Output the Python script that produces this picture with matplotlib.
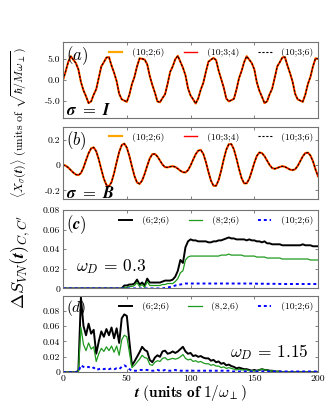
import numpy as np
import matplotlib
matplotlib.use('Agg')
import matplotlib.pyplot as plt

plt.rcParams['font.family'] = 'cmr10'
plt.rcParams['mathtext.fontset'] = 'cm'
plt.rcParams['axes.unicode_minus'] = False
plt.rcParams['axes.formatter.use_mathtext'] = True

# tiempo (unidades de 1/omega_perp), paso 2
t = np.arange(0, 201, 2)

# panel (a): <X_sigma(t)>, sigma = I
xa = [0.0, 2.0, 4.2, 5.6, 4.8, 4.0, 2.5, -0.5, -2.5, -3.9,
      -5.5, -5.1, -3.5, -2.2, 0.5, 3.2, 4.2, 5.3, 5.4, 3.4,
      1.7, -0.3, -3.3, -4.6, -4.9, -5.2, -3.5, -1.0, 0.7, 3.2,
      5.1, 5.0, 4.8, 3.7, 0.9, -1.2, -3.0, -5.1, -5.3, -4.3,
      -3.4, -0.9, 1.9, 3.2, 4.9, 5.7, 4.3, 2.9, 1.1, -2.0,
      -3.7, -4.6, -5.6, -4.4, -2.3, -0.7, 1.9, 4.3, 4.8, 5.2,
      4.7, 2.2, 0.2, -1.8, -4.4, -5.1, -4.8, -4.5, -2.3, 0.4,
      2.1, 4.2, 5.6, 4.8, 4.0, 2.5, -0.6, -2.6, -4.0, -5.5,
      -5.1, -3.4, -2.1, 0.5, 3.2, 4.2, 5.3, 5.4, 3.4, 1.6,
      -0.4, -3.3, -4.6, -4.9, -5.2, -3.5, -1.0, 0.7, 3.2, 5.1,
      5.0]

# panel (b): <X_sigma(t)>, sigma = B
xb = [0.0, -0.005, -0.02, -0.04, -0.06, -0.075, -0.08, -0.064, -0.021, 0.038,
      0.093, 0.131, 0.139, 0.108, 0.044, -0.035, -0.109, -0.158, -0.169, -0.135,
      -0.065, 0.022, 0.103, 0.157, 0.169, 0.137, 0.071, -0.011, -0.087, -0.138,
      -0.149, -0.123, -0.070, -0.006, 0.052, 0.085, 0.087, 0.067, 0.035, 0.003,
      -0.017, -0.019, -0.013, -0.010, -0.015, -0.029, -0.045, -0.057, -0.059, -0.041,
      -0.004, 0.042, 0.085, 0.113, 0.119, 0.088, 0.024, -0.054, -0.124, -0.164,
      -0.164, -0.120, -0.044, 0.044, 0.120, 0.164, 0.165, 0.123, 0.051, -0.031,
      -0.103, -0.145, -0.145, -0.110, -0.050, 0.017, 0.072, 0.099, 0.094, 0.070,
      0.035, 0.000, -0.024, -0.030, -0.024, -0.015, -0.010, -0.014, -0.025, -0.036,
      -0.040, -0.034, -0.008, 0.030, 0.068, 0.094, 0.098, 0.075, 0.030, -0.035,
      -0.090]

# panel (c): Delta S_VN, omega_D = 0.3
sc_626 = [0] * 24 + [
    0.003, 0.003, 0.004, 0.004, 0.005, 0.009, 0.004, 0.006, 0.003, 0.010,
    0.006, 0.006, 0.006, 0.006, 0.006, 0.007, 0.008, 0.008, 0.008, 0.009,
    0.012, 0.018, 0.029, 0.026, 0.042, 0.048, 0.050, 0.049, 0.049, 0.048,
    0.048, 0.048, 0.048, 0.047, 0.047, 0.048, 0.048, 0.049, 0.049, 0.050,
    0.051, 0.052, 0.051, 0.051, 0.050, 0.050, 0.050, 0.050, 0.049, 0.050,
    0.049, 0.049, 0.048, 0.048, 0.047, 0.048, 0.046, 0.046, 0.045, 0.045,
    0.045, 0.045, 0.044, 0.044, 0.044, 0.044, 0.044, 0.044, 0.044, 0.044,
    0.045, 0.044, 0.044, 0.044, 0.043, 0.043, 0.043]
sc_826 = [0] * 24 + [
    0.001, 0.001, 0.002, 0.002, 0.003, 0.006, 0.002, 0.004, 0.001, 0.007,
    0.003, 0.003, 0.003, 0.003, 0.003, 0.004, 0.004, 0.005, 0.005, 0.005,
    0.007, 0.010, 0.016, 0.018, 0.029, 0.032, 0.033, 0.033, 0.033, 0.033,
    0.033, 0.033, 0.033, 0.033, 0.033, 0.033, 0.033, 0.033, 0.034, 0.034,
    0.034, 0.035, 0.034, 0.034, 0.034, 0.034, 0.034, 0.033, 0.033, 0.033,
    0.033, 0.033, 0.032, 0.032, 0.032, 0.032, 0.031, 0.031, 0.031, 0.031,
    0.031, 0.031, 0.030, 0.030, 0.030, 0.030, 0.030, 0.030, 0.030, 0.030,
    0.030, 0.030, 0.030, 0.029, 0.029, 0.029, 0.029]
sc_1026 = [0] * 40 + [
    0.0005, 0.001, 0.0015, 0.002, 0.003, 0.0035, 0.004, 0.0045, 0.005, 0.005,
    0.005, 0.005, 0.005, 0.005, 0.005, 0.005, 0.005, 0.005, 0.005, 0.005,
    0.005, 0.005, 0.005, 0.005, 0.005, 0.005, 0.005, 0.005, 0.005, 0.005,
    0.005, 0.005, 0.005, 0.005, 0.005, 0.005, 0.0048, 0.0048, 0.0048, 0.0048,
    0.0047, 0.0047, 0.0047, 0.0047, 0.0046, 0.0046, 0.0046, 0.0045, 0.0045, 0.0045,
    0.0045, 0.0045, 0.0045, 0.0045, 0.0045, 0.0045, 0.0045, 0.0045, 0.0045, 0.0045,
    0.0045]

# panel (d): Delta S_VN, omega_D = 1.15
sd_626 = [0] * 6 + [
    0.002, 0.097, 0.060, 0.048, 0.063, 0.050, 0.055, 0.024, 0.040, 0.053,
    0.046, 0.056, 0.048, 0.058, 0.044, 0.057, 0.038, 0.070, 0.075, 0.073,
    0.040, 0.009, 0.014, 0.020, 0.026, 0.033, 0.029, 0.027, 0.016, 0.013,
    0.019, 0.022, 0.020, 0.027, 0.028, 0.024, 0.025, 0.027, 0.025, 0.027,
    0.030, 0.033, 0.027, 0.024, 0.025, 0.021, 0.022, 0.020, 0.021, 0.019,
    0.018, 0.018, 0.015, 0.016, 0.013, 0.014, 0.011, 0.012, 0.009, 0.010,
    0.008, 0.007, 0.005, 0.006, 0.005, 0.004, 0.004, 0.003, 0.002, 0.003,
    0.002, 0.003, 0.004, 0.003, 0.003, 0.002, 0.002, 0.001, 0.001, 0.001] + [0] * 15
sd_826 = [0] * 6 + [
    0.001, 0.058, 0.036, 0.028, 0.038, 0.030, 0.033, 0.014, 0.024, 0.031,
    0.027, 0.033, 0.028, 0.034, 0.026, 0.034, 0.022, 0.042, 0.048, 0.046,
    0.026, 0.006, 0.009, 0.013, 0.017, 0.022, 0.019, 0.018, 0.010, 0.009,
    0.013, 0.015, 0.014, 0.018, 0.019, 0.016, 0.017, 0.018, 0.017, 0.018,
    0.020, 0.023, 0.018, 0.016, 0.017, 0.014, 0.015, 0.013, 0.014, 0.012,
    0.011, 0.011, 0.009, 0.010, 0.008, 0.008, 0.006, 0.007, 0.005, 0.006,
    0.005, 0.004, 0.003, 0.004, 0.003, 0.003, 0.003, 0.002, 0.002, 0.002,
    0.002, 0.003, 0.004, 0.003, 0.003, 0.002, 0.002, 0.001, 0.001, 0.001] + [0] * 15
sd_1026 = [0] * 6 + [
    0.0005, 0.009, 0.007, 0.006, 0.007, 0.005, 0.006, 0.003, 0.004, 0.005,
    0.004, 0.005, 0.004, 0.005, 0.004, 0.005, 0.004, 0.007, 0.009, 0.007,
    0.004, 0.002, 0.002, 0.002, 0.003, 0.003, 0.003, 0.003, 0.002, 0.002,
    0.002, 0.003, 0.002, 0.002, 0.003, 0.002, 0.002, 0.002, 0.003, 0.002,
    0.002, 0.002, 0.002, 0.002, 0.002, 0.002, 0.002, 0.002, 0.002, 0.002,
    0.002, 0.002, 0.002, 0.002, 0.002, 0.002, 0.002, 0.002, 0.002, 0.002,
    0.001, 0.001, 0.001, 0.001, 0.001, 0.001, 0.001, 0.001, 0.001, 0.001,
    0.001, 0.001, 0.001, 0.001, 0.001, 0.001, 0.001, 0.001, 0.001, 0.001,
    0.001, 0.001, 0.001, 0.001, 0.001, 0.001, 0.001, 0.001, 0.001, 0.001,
    0.001, 0.001, 0.001, 0.001, 0.001]

etiquetas_ab = ['(10;2;6)', '(10;3;4)', '(10;3;6)']
etiquetas_c = ['(6;2;6)', '(8;2;6)', '(10;2;6)']
etiquetas_d = ['(6;2;6)', '(8,2,6)', '(10;2;6)']

fig = plt.figure(figsize=(3.32, 4.15), dpi=100)
izq, ancho = 0.190, 0.768
ax_a = fig.add_axes([izq, 0.716, ancho, 0.183])
ax_b = fig.add_axes([izq, 0.520, ancho, 0.174])
ax_c = fig.add_axes([izq, 0.305, ancho, 0.189])
ax_d = fig.add_axes([izq, 0.103, ancho, 0.184])

verde = '#1f9a1f'

def estilo(ax):
    ax.set_xlim(0, 200)
    ax.set_xticks([0, 50, 100, 150, 200])
    ax.tick_params(direction='in', top=True, right=True, length=2.5,
                   width=0.5, labelsize=7, pad=2, colors='0.3', labelcolor='black')
    for s in ax.spines.values():
        s.set_color('0.45')
        s.set_linewidth(0.8)

def leyenda(ax, handles, labels, y=0.86):
    ax.legend(handles, labels, ncol=3, loc='center right', bbox_to_anchor=(0.99, y),
              frameon=False, fontsize=7, handlelength=1.35, columnspacing=2.0,
              handletextpad=1.0, borderaxespad=0, borderpad=0.2)

# (a)
h1, = ax_a.plot(t, xa, color='orange', lw=1.6)
h2, = ax_a.plot(t, xa, color='red', lw=1.0)
h3, = ax_a.plot(t, xa, color='black', lw=0.8, ls=(0, (2, 1.5)))
estilo(ax_a)
ax_a.set_ylim(-9, 9)
ax_a.set_yticks([-5, 0, 5])
ax_a.set_yticklabels(['-5.0', '0.0', '5.0'])
ax_a.set_xticklabels([])
leyenda(ax_a, [h1, h2, h3], etiquetas_ab)
ax_a.text(0.01, 0.97, r'$(a)$', transform=ax_a.transAxes, fontsize=12, va='top')
ax_a.text(0.01, 0.0, r'$\boldsymbol{\sigma}\ \mathbf{=}\ \boldsymbol{I}$',
          transform=ax_a.transAxes, fontsize=12, va='bottom')

# (b)
h1, = ax_b.plot(t, xb, color='orange', lw=1.6)
h2, = ax_b.plot(t, xb, color='red', lw=1.0)
h3, = ax_b.plot(t, xb, color='black', lw=0.8, ls=(0, (2, 1.5)))
estilo(ax_b)
ax_b.set_ylim(-0.27, 0.30)
ax_b.set_yticks([-0.2, 0, 0.2])
ax_b.set_yticklabels(['-0.2', '0', '0.2'])
ax_b.set_xticklabels([])
leyenda(ax_b, [h1, h2, h3], etiquetas_ab)
ax_b.text(0.01, 0.97, r'$(b)$', transform=ax_b.transAxes, fontsize=12, va='top')
ax_b.text(0.01, -0.02, r'$\boldsymbol{\sigma}\ \mathbf{=}\ \boldsymbol{B}$',
          transform=ax_b.transAxes, fontsize=12, va='bottom')

# (c)
h1, = ax_c.plot(t, sc_626, color='black', lw=1.4)
h2, = ax_c.plot(t, sc_826, color=verde, lw=0.9)
h3, = ax_c.plot(t, sc_1026, color='blue', lw=1.4, ls=(0, (1.5, 1.5)))
estilo(ax_c)
ax_c.set_ylim(0, 0.08)
ax_c.set_yticks([0, 0.02, 0.04, 0.06, 0.08])
ax_c.set_yticklabels(['0', '0.02', '0.04', '0.06', '0.08'])
ax_c.set_xticklabels([])
leyenda(ax_c, [h1, h2, h3], etiquetas_c)
ax_c.text(0.01, 0.96, r'$\boldsymbol{(c)}$', transform=ax_c.transAxes, fontsize=12, va='top')
ax_c.text(0.05, 0.28, r'$\omega_D\,=\,0.3$', transform=ax_c.transAxes, fontsize=12.5, va='center')

# (d)
h1, = ax_d.plot(t, sd_626, color='black', lw=1.4)
h2, = ax_d.plot(t, sd_826, color=verde, lw=0.9)
h3, = ax_d.plot(t, sd_1026, color='blue', lw=1.4, ls=(0, (1.5, 1.5)))
estilo(ax_d)
ax_d.set_ylim(0, 0.099)
ax_d.set_yticks([0, 0.02, 0.04, 0.06, 0.08])
ax_d.set_yticklabels(['0', '0.02', '0.04', '0.06', '0.08'])
ax_d.set_xticklabels(['0', '50', '100', '150', '200'])
leyenda(ax_d, [h1, h2, h3], etiquetas_d)
ax_d.text(0.01, 0.97, r'$(d)$', transform=ax_d.transAxes, fontsize=11, va='top')
ax_d.text(0.655, 0.27, r'$\omega_D\,=\,1.15$', transform=ax_d.transAxes, fontsize=12.5, va='center')
ax_d.set_xlabel(r'$\boldsymbol{t}\ \mathbf{(units\ of\ 1/}\boldsymbol{\omega_{\perp}}\mathbf{)}$',
                fontsize=11, labelpad=0)

fig.text(0.055, 0.706,
         r'$\langle \boldsymbol{X_\sigma(t)}\rangle$ (units of $\sqrt{\hbar/M\omega_\perp}$)',
         rotation=90, ha='center', va='center', fontsize=8.5)
fig.text(0.06, 0.37, r'$\boldsymbol{\Delta S_{VN}(t)_{C,C^\prime}}$',
         rotation=90, ha='center', va='center', fontsize=13)

fig.savefig('out.png', dpi=100)
